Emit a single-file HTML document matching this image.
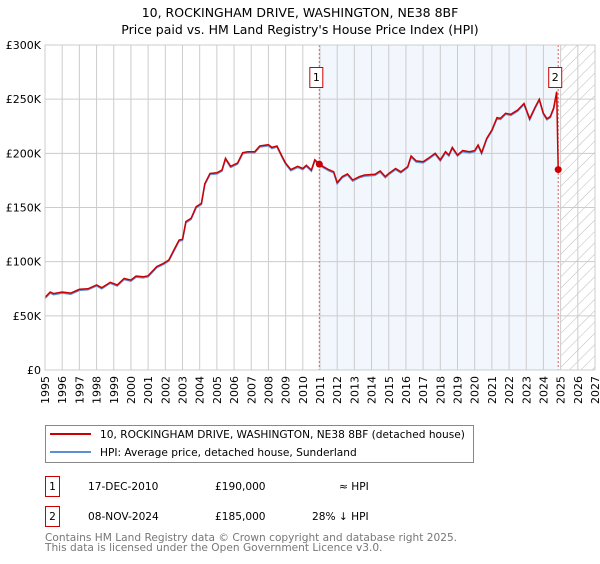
<!DOCTYPE html>
<html><head><meta charset="utf-8"><style>
body{margin:0;background:#fff;font-family:"DejaVu Sans","Liberation Sans",sans-serif;}
svg text{font-family:"DejaVu Sans","Liberation Sans",sans-serif;}
</style></head><body>
<svg id="c" width="600" height="560" xmlns="http://www.w3.org/2000/svg">
<defs><pattern id="hatch" width="8" height="8" patternUnits="userSpaceOnUse" patternTransform="rotate(45)"><line x1="0" y1="0" x2="0" y2="8" stroke="#bbb" stroke-width="1"/></pattern></defs>
<text x="300" y="17" text-anchor="middle" font-size="12.5">10, ROCKINGHAM DRIVE, WASHINGTON, NE38 8BF</text>
<text x="300" y="34" text-anchor="middle" font-size="12.5">Price paid vs. HM Land Registry's House Price Index (HPI)</text>
<g id="plot"></g>
<g>
<rect x="45.5" y="425.5" width="428" height="37" fill="#fff" stroke="#888"/>
<line x1="50" y1="434" x2="91" y2="434" stroke="#cc0000" stroke-width="2"/>
<text x="100" y="438" font-size="10.6">10, ROCKINGHAM DRIVE, WASHINGTON, NE38 8BF (detached house)</text>
<line x1="50" y1="452" x2="91" y2="452" stroke="#5b8fd6" stroke-width="2"/>
<text x="100" y="456" font-size="10.6">HPI: Average price, detached house, Sunderland</text>
</g>
<g font-size="10.6">
<rect x="45.5" y="476.5" width="14" height="20" fill="#fff" stroke="#cc0000"/>
<text x="52.5" y="490" text-anchor="middle">1</text>
<text x="88" y="490">17-DEC-2010</text><text x="215" y="490">£190,000</text><text x="339" y="490">≈ HPI</text>
<rect x="45.5" y="506.5" width="14" height="20" fill="#fff" stroke="#cc0000"/>
<text x="52.5" y="520" text-anchor="middle">2</text>
<text x="88" y="520">08-NOV-2024</text><text x="215" y="520">£185,000</text><text x="312" y="520">28% ↓ HPI</text>
</g>
<text x="45" y="541" font-size="10.6" fill="#777">Contains HM Land Registry data © Crown copyright and database right 2025.</text>
<text x="45" y="551" font-size="10.6" fill="#777">This data is licensed under the Open Government Licence v3.0.</text>
</svg>
<script>
const years=[1995,1996,1997,1998,1999,2000,2001,2002,2003,2004,2005,2006,2007,2008,2009,2010,2011,2012,2013,2014,2015,2016,2017,2018,2019,2020,2021,2022,2023,2024,2025,2026,2027];
const yTicks=[0,50000,100000,150000,200000,250000,300000];
const yTickLabels=["£0","£50K","£100K","£150K","£200K","£250K","£300K"];
const dates=[1995.0,1995.3,1995.5,1996.0,1996.5,1997.0,1997.5,1998.0,1998.3,1998.8,1999.2,1999.6,2000.0,2000.3,2000.7,2001.0,2001.5,2001.9,2002.2,2002.5,2002.8,2003.0,2003.2,2003.5,2003.8,2004.1,2004.3,2004.6,2005.0,2005.3,2005.5,2005.8,2006.2,2006.5,2006.8,2007.2,2007.5,2008.0,2008.2,2008.5,2008.8,2009.0,2009.3,2009.7,2010.0,2010.2,2010.5,2010.7,2010.96,2011.2,2011.5,2011.8,2012.0,2012.3,2012.6,2012.9,2013.3,2013.6,2014.2,2014.5,2014.8,2015.0,2015.4,2015.7,2016.1,2016.3,2016.6,2017.0,2017.3,2017.7,2018.0,2018.3,2018.5,2018.7,2019.0,2019.3,2019.7,2020.0,2020.2,2020.4,2020.7,2021.0,2021.3,2021.5,2021.8,2022.1,2022.5,2022.87,2023.2,2023.5,2023.76,2024.0,2024.2,2024.4,2024.6,2024.77];
const hpiValues=[67,72,70.5,72,71,74.5,75,78.5,76,81,78.5,84.5,83,86.8,86,87,95.4,98.5,101.5,110.8,120,120.6,137,140,150.8,153.8,172,181.5,182,184.6,195.4,188,191,200.6,201.5,201.5,206.8,208,205.5,206.8,197,191,185,188,186,189,184.6,194,190,187.7,185,183,173,178.5,181,175.4,178.5,180,180.6,183.7,178.5,181.5,186,183,187.7,197.5,193,192.3,195.4,200,194,201.5,198.5,205.5,198.5,202.5,201.5,202.5,207.7,200.6,213.8,221.5,233,232.3,237,236,240,246,232,242,250,237,232,234,242,257];
const saleDates=[2010.96,2024.86];
const salePrices=[190000,185000];
const saleLabels=["1","2"];

const NS="http://www.w3.org/2000/svg";
const L=45,R=595,T=45,B=370;
const x=v=>L+(v-1995)/(2027-1995)*(R-L);
const y=v=>B-v/300000*(B-T);
const g=document.getElementById('plot');
function mk(tag,attrs){const e=document.createElementNS(NS,tag);for(const k in attrs)e.setAttribute(k,attrs[k]);g.appendChild(e);return e;}
let e;
e=mk('rect',{x:x(saleDates[0]),y:T,width:x(saleDates[1])-x(saleDates[0]),height:B-T,fill:'#f2f6fd'});


e=mk('rect',{x:x(2025),y:T,width:R-x(2025),height:B-T,fill:'url(#hatch)'});


years.forEach(yr=>{
 e=mk('line',{x1:x(yr),x2:x(yr),y1:T,y2:B,stroke:'#ccc','stroke-width':1});
 
 
 const t=mk('text',{x:0,y:0,'font-size':11,transform:`translate(${x(yr)+4},${B+6}) rotate(-90)`,'text-anchor':'end'});
 t.textContent=yr;
 
 
});
yTicks.forEach((v,i)=>{
 e=mk('line',{x1:L,x2:R,y1:y(v),y2:y(v),stroke:'#ccc','stroke-width':1});
 
 
 const t=mk('text',{x:L-4,y:y(v)+4,'font-size':11,'text-anchor':'end'});
 t.textContent=yTickLabels[i];
 
 
});
saleDates.forEach((d,i)=>{
 e=mk('line',{x1:x(d),x2:x(d),y1:T,y2:B,stroke:'#e06060','stroke-width':1,'stroke-dasharray':'2,2'});
 
 
});
const hp=dates.map((d,i)=>`${x(d).toFixed(1)},${y(hpiValues[i]*1000-1000).toFixed(1)}`).join(' ');
e=mk('polyline',{points:hp,fill:'none',stroke:'#5b8fd6','stroke-width':1.5});


const pp=dates.map((d,i)=>`${x(d).toFixed(1)},${y(hpiValues[i]*1000).toFixed(1)}`);
pp.push(`${x(saleDates[1]).toFixed(1)},${y(salePrices[1]).toFixed(1)}`);
e=mk('polyline',{points:pp.join(' '),fill:'none',stroke:'#cc0000','stroke-width':1.5});


saleDates.forEach((d,i)=>{
 e=mk('circle',{cx:x(d),cy:y(salePrices[i]),r:3.5,fill:'#cc0000'});
 
 
 e=mk('rect',{x:x(d)-9.5,y:67.5,width:13,height:20,fill:'#fff',stroke:'#cc0000'});
 
 
 const t=mk('text',{x:x(d)-3,y:81,'font-size':11,'text-anchor':'middle'});
 t.textContent=saleLabels[i];
 
 
});
e=mk('rect',{x:L,y:T,width:R-L,height:B-T,fill:'none',stroke:'#ccc'});


</script>
</body></html>
